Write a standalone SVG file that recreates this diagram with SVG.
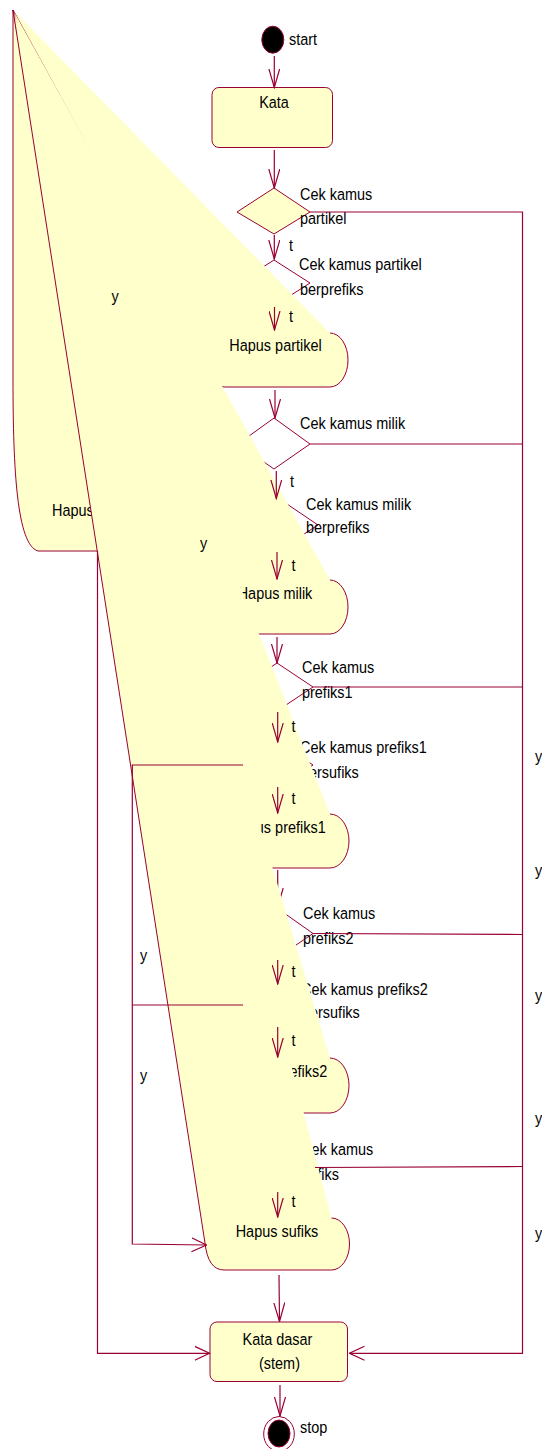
<svg xmlns="http://www.w3.org/2000/svg" width="542" height="1449" viewBox="0 0 542 1449">
<style>
.s{fill:none;stroke:#990033;stroke-width:1}
.f{fill:#ffffcc;stroke:none}
.d{fill:none;stroke:#990033;stroke-width:1}
.c{fill:none;stroke:#990033;stroke-width:1.2}
text{font-family:"Liberation Sans",Arial,sans-serif;font-size:17px;fill:#000}
.m{text-anchor:middle}
</style>
<defs>
<marker id="av" viewBox="0 0 20 12" refX="19" refY="6" markerWidth="20" markerHeight="12" markerUnits="userSpaceOnUse" orient="auto"><path d="M0,0.5 L19,6 L0,11.5" fill="none" stroke="#990033" stroke-width="1.2"/></marker>
<marker id="ah" viewBox="0 0 16 16" refX="15" refY="8" markerWidth="16" markerHeight="16" markerUnits="userSpaceOnUse" orient="auto"><path d="M0,1 L15,8 L0,15" fill="none" stroke="#990033" stroke-width="1.2"/></marker>
</defs>
<rect width="542" height="1449" fill="#fff"/>

<g id="hapus-a">
<path class="f" d="M13,10 L13,380 C13,470 17,545 38,551 L110,551 Z"/>
<path class="s" d="M13,10 L13,380 C13,470 17,545 38,551 L100,551"/>
<text transform="translate(52 516) scale(.85 1)">Hapus</text>
</g>

<g id="cek1">
<polygon points="274,188 310,212 274,234 237,212" fill="#ffffcc" stroke="#990033"/>
<text transform="translate(300 200) scale(.85 1)">Cek kamus</text>
<text transform="translate(300 224) scale(.85 1)">partikel</text>
</g>
<g id="cek2">
<polygon class="d" points="274,260 310,283 274,306 238,283"/>
<text transform="translate(299 270) scale(.85 1)">Cek kamus partikel</text>
<text transform="translate(300 295) scale(.85 1)">berprefiks</text>
</g>
<g id="cek3">
<polygon class="d" points="274,418 310,444 274,469 238,444"/>
<text transform="translate(300 429) scale(.85 1)">Cek kamus milik</text>
</g>
<g id="cek4">
<polygon class="d" points="281,500 318,525 281,549 244,525"/>
<text transform="translate(306 510) scale(.85 1)">Cek kamus milik</text>
<text transform="translate(306 533) scale(.85 1)">berprefiks</text>
</g>
<g id="cek5">
<polygon class="d" points="277,663 313,687 277,711 241,687"/>
<text transform="translate(302 673) scale(.85 1)">Cek kamus</text>
<text transform="translate(302 698) scale(.85 1)">prefiks1</text>
</g>
<g id="cek6">
<polygon class="d" points="277,741 313,765 277,789 241,765"/>
<text transform="translate(300 753) scale(.85 1)">Cek kamus prefiks1</text>
<text transform="translate(301 778) scale(.85 1)">bersufiks</text>
</g>
<g id="cek7">
<polygon class="d" points="277,908 313,933.5 277,958 241,933.5"/>
<text transform="translate(303 919) scale(.85 1)">Cek kamus</text>
<text transform="translate(303 944) scale(.85 1)">prefiks2</text>
</g>
<g id="cek8">
<polygon class="d" points="277,983 313,1005 277,1027 241,1005"/>
<text transform="translate(301 995) scale(.85 1)">Cek kamus prefiks2</text>
<text transform="translate(302 1018) scale(.85 1)">bersufiks</text>
</g>
<g id="cek9">
<polygon class="d" points="279,1143 315,1167 279,1191 243,1167"/>
<text transform="translate(301 1155) scale(.85 1)">Cek kamus</text>
<text transform="translate(302 1180) scale(.85 1)">sufiks</text>
</g>

<g id="connectors-under">
<line class="c" x1="277.7" y1="870" x2="277.7" y2="907" marker-end="url(#av)"/>
<line class="c" x1="279" y1="1116" x2="279" y2="1142" marker-end="url(#av)"/>
</g>

<g id="hapus-partikel">
<path class="f" d="M13,10 L330,333 A18,27 0 0 1 330,387 L225,387 Q209,387 205,360 Z"/>
<path class="s" d="M330,333 A18,27 0 0 1 330,387 L225,387 Q209,387 205,360 L13,10"/>
<text class="m" transform="translate(275.5 351) scale(.85 1)">Hapus partikel</text>
</g>
<g id="hapus-milik">
<path class="f" d="M13,10 L330,580 A18,27 0 0 1 330,634 L225,634 Q209,634 205,607 Z"/>
<path class="s" d="M330,580 A18,27 0 0 1 330,634 L225,634 Q209,634 205,607 L13,10"/>
<text class="m" transform="translate(275 599) scale(.85 1)">Hapus milik</text>
</g>
<g id="hapus-prefiks1">
<path class="f" d="M13,10 L330,814 A19,27 0 0 1 330,868 L225,868 Q209,868 205,841 Z"/>
<path class="s" d="M330,814 A19,27 0 0 1 330,868 L225,868 Q209,868 205,841 L13,10"/>
<text class="m" transform="translate(277.5 833) scale(.85 1)">Hapus prefiks1</text>
</g>
<g id="hapus-prefiks2">
<path class="f" d="M13,10 L330,1058 A19,27.5 0 0 1 330,1113 L225,1113 Q209,1113 205,1086 Z"/>
<path class="s" d="M330,1058 A19,27.5 0 0 1 330,1113 L225,1113 Q209,1113 205,1086 L13,10"/>
<text class="m" transform="translate(279 1077) scale(.85 1)">Hapus prefiks2</text>
</g>
<g id="hapus-sufiks">
<path class="f" d="M13,10 L331.5,1218 A18,26 0 0 1 331.5,1270 L224,1270 Q208,1270 205,1243 Z"/>
<path class="s" d="M331.5,1218 A18,26 0 0 1 331.5,1270 L224,1270 Q208,1270 205,1243 L13,10"/>
<text class="m" transform="translate(277 1237) scale(.85 1)">Hapus sufiks</text>
</g>

<g id="start">
<ellipse cx="272.8" cy="39.7" rx="11" ry="13.5" fill="#000" stroke="#990033"/>
<text transform="translate(289 45) scale(.85 1)">start</text>
</g>
<g id="kata">
<rect x="212" y="87.5" width="120.5" height="60" rx="7" fill="#ffffcc" stroke="#990033"/>
<text class="m" transform="translate(274 108) scale(.85 1)">Kata</text>
</g>
<g id="kata-dasar">
<rect x="210" y="1322" width="137.5" height="59.5" rx="7" fill="#ffffcc" stroke="#990033"/>
<text class="m" transform="translate(277.5 1345) scale(.85 1)">Kata dasar</text>
<text class="m" transform="translate(279.5 1369) scale(.85 1)">(stem)</text>
</g>
<g id="stop">
<ellipse cx="279" cy="1434" rx="15.3" ry="17.5" fill="#fff" stroke="#990033"/>
<ellipse cx="279" cy="1433.5" rx="11" ry="13.5" fill="#000" stroke="#990033"/>
<text transform="translate(300 1433) scale(.85 1)">stop</text>
</g>

<g id="connectors">
<line class="c" x1="274.3" y1="56" x2="274.3" y2="87.5" marker-end="url(#av)"/>
<line class="c" x1="274.3" y1="150" x2="274.3" y2="188" marker-end="url(#av)"/>
<line class="c" x1="274.3" y1="235" x2="274.3" y2="259" marker-end="url(#av)"/>
<line class="c" x1="274.5" y1="307" x2="274.5" y2="330" marker-end="url(#av)"/>
<line class="c" x1="275" y1="390" x2="275" y2="418" marker-end="url(#av)"/>
<line class="c" x1="276.3" y1="471" x2="276.3" y2="498.5" marker-end="url(#av)"/>
<line class="c" x1="277" y1="552" x2="277" y2="579" marker-end="url(#av)"/>
<line class="c" x1="277" y1="637" x2="277" y2="663" marker-end="url(#av)"/>
<line class="c" x1="277.7" y1="712" x2="277.7" y2="742" marker-end="url(#av)"/>
<line class="c" x1="277.7" y1="787" x2="277.7" y2="813" marker-end="url(#av)"/>
<line class="c" x1="277.7" y1="960" x2="277.7" y2="984" marker-end="url(#av)"/>
<line class="c" x1="277.7" y1="1027" x2="277.7" y2="1057" marker-end="url(#av)"/>
<line class="c" x1="277.7" y1="1192" x2="277.7" y2="1217" marker-end="url(#av)"/>
<line class="c" x1="279" y1="1275" x2="279.5" y2="1321.5" marker-end="url(#av)"/>
<line class="c" x1="280" y1="1385" x2="280" y2="1416" marker-end="url(#av)"/>

<polyline class="c" points="310,212 522.5,212 522.5,1353.3 349.5,1353.3" marker-end="url(#ah)"/>
<line class="c" x1="310" y1="444" x2="522.5" y2="444"/>
<line class="c" x1="313" y1="687" x2="522.5" y2="687"/>
<line class="c" x1="313" y1="933.5" x2="522.5" y2="934.5"/>
<line class="c" x1="315" y1="1167.5" x2="522.5" y2="1166.5"/>

<polyline class="c" points="97.5,551 97.5,1353.3 209.5,1353.3" marker-end="url(#ah)"/>
<polyline class="c" points="243,765 132.3,765 132.3,1244 206.5,1245" marker-end="url(#ah)"/>
<line class="c" x1="243" y1="1005" x2="132.3" y2="1005"/>

<text transform="translate(289 250.5) scale(.85 1)">t</text>
<text transform="translate(289 322) scale(.85 1)">t</text>
<text transform="translate(290 487) scale(.85 1)">t</text>
<text transform="translate(291.5 570.5) scale(.85 1)">t</text>
<text transform="translate(291.5 732) scale(.85 1)">t</text>
<text transform="translate(291.5 804) scale(.85 1)">t</text>
<text transform="translate(291.5 977) scale(.85 1)">t</text>
<text transform="translate(291.5 1045.5) scale(.85 1)">t</text>
<text transform="translate(291.5 1207) scale(.85 1)">t</text>

<text transform="translate(111.5 302) scale(.85 1)">y</text>
<text transform="translate(200 549) scale(.85 1)">y</text>
<text transform="translate(140 960.5) scale(.85 1)">y</text>
<text transform="translate(140 1080.5) scale(.85 1)">y</text>
<text transform="translate(535 762) scale(.85 1)">y</text>
<text transform="translate(535 875.5) scale(.85 1)">y</text>
<text transform="translate(535 1000.5) scale(.85 1)">y</text>
<text transform="translate(535 1124) scale(.85 1)">y</text>
<text transform="translate(535 1239) scale(.85 1)">y</text>
</g>
</svg>
